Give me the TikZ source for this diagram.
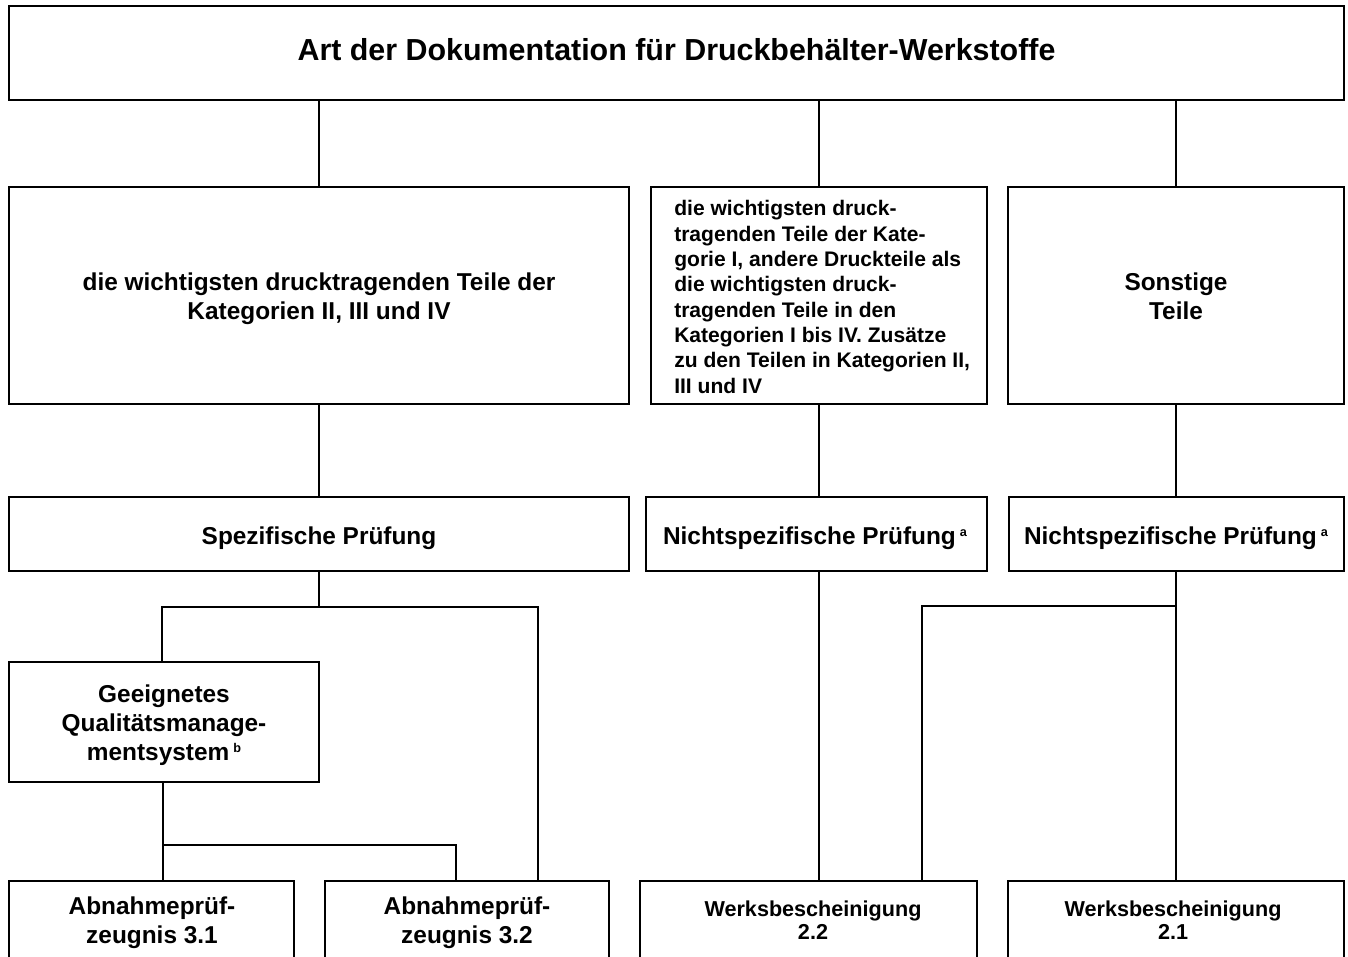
\documentclass[tikz,border=0pt]{standalone}
\usepackage{fontspec}
\setmainfont{Liberation Sans}
\newcommand\supmark[1]{\,\raisebox{0.6ex}{\fontsize{9.5}{10}\selectfont #1}}
\begin{document}
\begin{tikzpicture}[x=0.75pt,y=-0.75pt,
  box/.style={draw,line width=1.5pt,rectangle,inner sep=0pt},
  conn/.style={line width=1.4pt},
  big/.style={font=\bfseries\fontsize{22.8}{27}\selectfont},
  mid/.style={font=\bfseries\fontsize{18.3}{21.75}\selectfont,align=center},
  small/.style={font=\bfseries\fontsize{15.8}{19}\selectfont},
  tiny/.style={font=\bfseries\fontsize{16.2}{17.25}\selectfont,align=center}]
\useasboundingbox (0,0) rectangle (1348,956);
\clip (0,0) rectangle (1348,956);
% row 1
\node[box,minimum width=1335*0.75pt,minimum height=94*0.75pt] (top) at (676.5,53) {};
\node[big,inner sep=0pt] (ttop) at (676.5,50) {Art der Dokumentation für Druckbehälter-Werkstoffe};
% row 2
\node[box,minimum width=620*0.75pt,minimum height=217*0.75pt] (A) at (319,295.5) {};
\node[mid,inner sep=0pt] (tA) at (319,299) {die wichtigsten drucktragenden Teile der\\Kategorien II, III und IV};
\node[box,minimum width=336*0.75pt,minimum height=217*0.75pt] (B) at (819,295.5) {};
\node[small,align=left,inner sep=0pt,anchor=west] (tB) at (674,297) {die wichtigsten druck-\\tragenden Teile der Kate-\\gorie I, andere Druckteile als\\die wichtigsten druck-\\tragenden Teile in den\\Kategorien I bis IV. Zusätze\\zu den Teilen in Kategorien II,\\III und IV};
\node[box,minimum width=336*0.75pt,minimum height=217*0.75pt] (C) at (1176,295.5) {};
\node[mid,inner sep=0pt] (tC) at (1176,296) {Sonstige\\Teile};
% row 3
\node[box,minimum width=620*0.75pt,minimum height=74*0.75pt] (SA) at (319,534) {};
\node[box,minimum width=341*0.75pt,minimum height=74*0.75pt] (SB) at (816.5,534) {};
\node[box,minimum width=335*0.75pt,minimum height=74*0.75pt] (SC) at (1176.5,534) {};
\node[mid,inner sep=0pt] (tSA) at (319,538) {Spezifische Prüfung};
\node[mid,inner sep=0pt] (tSB) at (815,538) {Nichtspezifische Prüfung\supmark{a}};
\node[mid,inner sep=0pt] (tSC) at (1176,538) {Nichtspezifische Prüfung\supmark{a}};
% QM box
\node[box,minimum width=310*0.75pt,minimum height=120*0.75pt] (G) at (164,722) {};
\node[mid,inner sep=0pt] (tG) at (164,725) {Geeignetes\\Qualitätsmanage-\\mentsystem\supmark{b}};
% bottom boxes
\node[box,minimum width=285*0.75pt,minimum height=120*0.75pt,anchor=north] (A31) at (151.5,880) {};
\node[box,minimum width=284*0.75pt,minimum height=120*0.75pt,anchor=north] (A32) at (467,880) {};
\node[box,minimum width=337*0.75pt,minimum height=120*0.75pt,anchor=north] (W22) at (808.5,880) {};
\node[box,minimum width=336*0.75pt,minimum height=120*0.75pt,anchor=north] (W21) at (1176,880) {};
\node[mid,inner sep=0pt] (tA31) at (152,923) {Abnahmeprüf-\\zeugnis 3.1};
\node[mid,inner sep=0pt] (tA32) at (467,923) {Abnahmeprüf-\\zeugnis 3.2};
\node[tiny,inner sep=0pt] (tW22) at (813,920) {Werksbescheinigung\\2.2};
\node[tiny,inner sep=0pt] (tW21) at (1173,920) {Werksbescheinigung\\2.1};
% junction coordinates
\coordinate (jL) at (162,607);
\coordinate (jR) at (538,607);
\coordinate (kL) at (163,845);
\coordinate (kR) at (456,845);
\coordinate (mL) at (922,606);
\coordinate (mR) at (1176,606);
% connectors
\draw[conn] (top.south -| A.north) -- (A.north);
\draw[conn] (top.south -| B.north) -- (B.north);
\draw[conn] (top.south -| C.north) -- (C.north);
\draw[conn] (A.south) -- (A.south |- SA.north);
\draw[conn] (B.south) -- (B.south |- SB.north);
\draw[conn] (C.south) -- (C.south |- SC.north);
\draw[conn] (SA.south) -- (SA.south |- jL);
\draw[conn] (jL |- G.north) -- (jL) -- (jR) -- (jR |- A32.north);
\draw[conn] (kL |- G.south) -- (kL |- A31.north);
\draw[conn] (kL) -- (kR) -- (kR |- A32.north);
\draw[conn] (B.south |- SB.south) -- (B.south |- W22.north);
\draw[conn] (C.south |- SC.south) -- (C.south |- W21.north);
\draw[conn] (mL |- W22.north) -- (mL) -- (mR);
\end{tikzpicture}
\end{document}
